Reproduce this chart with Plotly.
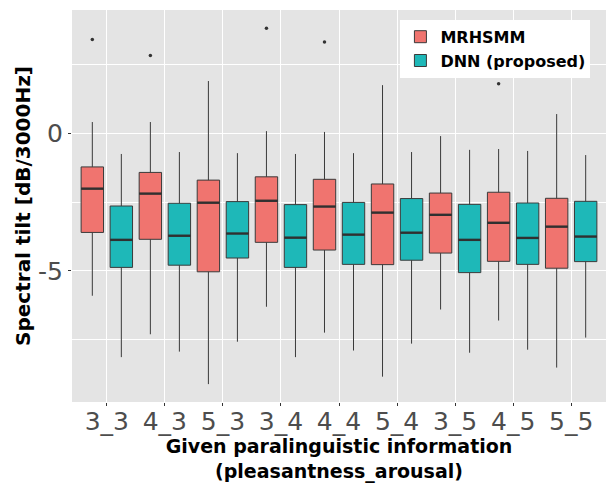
import plotly.graph_objects as go

categories = ["3_3", "4_3", "5_3", "3_4", "4_4", "5_4", "3_5", "4_5", "5_5"]

mrh_upper = [0.41, 0.41, 1.90, 0.08, 0.05, 1.75, -0.10, -0.57, 0.70]
mrh_q3 = [-1.22, -1.42, -1.70, -1.58, -1.67, -1.84, -2.17, -2.14, -2.36]
mrh_median = [-2.01, -2.19, -2.52, -2.45, -2.66, -2.88, -2.96, -3.25, -3.39]
mrh_q1 = [-3.60, -3.85, -5.03, -3.96, -4.24, -4.77, -4.35, -4.65, -4.90]
mrh_lower = [-5.90, -7.30, -9.11, -6.30, -7.24, -8.84, -6.40, -6.80, -8.51]
mrh_outlier_cat = ["3_3", "4_3", "3_4", "4_4", "4_5"]
mrh_outlier_val = [3.41, 2.83, 3.82, 3.32, 1.80]

dnn_upper = [-0.75, -0.68, -0.72, -0.75, -0.72, -0.68, -0.60, -0.64, -0.79]
dnn_q3 = [-2.64, -2.54, -2.48, -2.59, -2.51, -2.37, -2.58, -2.53, -2.47]
dnn_median = [-3.87, -3.72, -3.64, -3.79, -3.68, -3.61, -3.87, -3.80, -3.75]
dnn_q1 = [-4.87, -4.79, -4.53, -4.87, -4.76, -4.61, -5.06, -4.76, -4.66]
dnn_lower = [-8.13, -7.93, -7.57, -8.13, -7.89, -7.64, -7.97, -7.86, -7.42]

series_names = ["MRHSMM", "DNN (proposed)"]
fills = ["#F0746F", "#1EB8B8"]

DODGE = 0.25
BOXW = 0.386
idx = {c: i + 1 for i, c in enumerate(categories)}

fig = go.Figure()

def add_series(name, fill, offset, lower, q1, med, q3, upper):
    xs = [idx[c] + offset for c in categories]
    fig.add_trace(go.Box(
        name=name, x=xs, q1=q1, median=med, q3=q3,
        lowerfence=lower, upperfence=upper,
        width=BOXW, whiskerwidth=0, boxpoints=False,
        fillcolor=fill, line=dict(color="#3a3a3a", width=1),
        showlegend=True,
    ))
    mx, my = [], []
    for x, m in zip(xs, med):
        mx += [x - BOXW / 2, x + BOXW / 2, None]
        my += [m, m, None]
    fig.add_trace(go.Scatter(x=mx, y=my, mode="lines",
                             line=dict(color="#303030", width=2.4),
                             showlegend=False, hoverinfo="skip"))

add_series(series_names[0], fills[0], -DODGE, mrh_lower, mrh_q1, mrh_median, mrh_q3, mrh_upper)
add_series(series_names[1], fills[1], DODGE, dnn_lower, dnn_q1, dnn_median, dnn_q3, dnn_upper)

fig.add_trace(go.Scatter(
    x=[idx[c] - DODGE for c in mrh_outlier_cat], y=mrh_outlier_val,
    mode="markers", marker=dict(color="#333333", size=3.5),
    showlegend=False, hoverinfo="skip"))

fig.update_layout(
    width=608, height=483,
    margin=dict(l=72, r=2, t=10, b=81),
    paper_bgcolor="white", plot_bgcolor="#E4E4E4",
    boxmode="overlay",
    font=dict(family="DejaVu Sans", color="#000000"),
    legend=dict(x=0.615, y=0.975, xanchor="left", yanchor="top",
                bgcolor="white", borderwidth=0,
                font=dict(family="DejaVu Sans", size=16, color="#000000", weight="bold"),
                tracegroupgap=0),
    xaxis=dict(
        range=[0.4, 9.6], tickmode="array",
        tickvals=list(range(1, len(categories) + 1)), ticktext=categories,
        showgrid=True, gridcolor="white", gridwidth=1.1, zeroline=False,
        ticks="outside", ticklen=3, tickcolor="#333333",
        ticklabelstandoff=-6,
        tickfont=dict(family="DejaVu Sans", size=25, color="#4D4D4D"),
        title=dict(text="Given paralinguistic information<br>(pleasantness_arousal)",
                   font=dict(family="DejaVu Sans", size=19, color="#000000", weight="bold"),
                   standoff=6),
    ),
    yaxis=dict(
        range=[-9.76, 4.48], tickmode="array", tickvals=[-5, 0], ticktext=["-5", "0"],
        showgrid=True, gridcolor="white", gridwidth=1.1, zeroline=False,
        minor=dict(tickmode="array", tickvals=[-7.5, -2.5, 2.5], showgrid=True,
                   gridcolor="white", gridwidth=0.7, ticks=""),
        ticks="outside", ticklen=3, tickcolor="#333333",
        tickfont=dict(family="DejaVu Sans", size=25, color="#4D4D4D"),
        title=dict(text="Spectral tilt [dB/3000Hz]",
                   font=dict(family="DejaVu Sans", size=20, color="#000000", weight="bold"),
                   standoff=2),
    ),
)

fig.write_html("out.html")
